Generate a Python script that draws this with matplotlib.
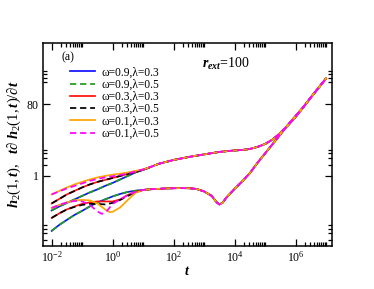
import matplotlib
matplotlib.use('Agg')
import matplotlib.pyplot as plt
from matplotlib.ticker import FixedLocator, NullFormatter

plt.rcParams['font.family'] = 'Liberation Serif'
plt.rcParams['mathtext.fontset'] = 'custom'
plt.rcParams['mathtext.rm'] = 'Liberation Serif'
plt.rcParams['mathtext.it'] = 'Liberation Serif:italic:bold'
plt.rcParams['mathtext.bf'] = 'Liberation Serif:bold'

# early times (quarter decades from 1e-2 to 1e1)
t_early = [0.01, 0.0178, 0.0316, 0.0562, 0.1, 0.178, 0.316, 0.562, 1.0, 1.78, 3.16, 5.62, 10.0]

# h2(1,t), early part
up_w09 = [0.122, 0.156, 0.193, 0.239, 0.296, 0.366, 0.44, 0.544, 0.653, 0.808, 1.0, 1.24, 1.44]
up_w03 = [0.187, 0.246, 0.324, 0.401, 0.496, 0.596, 0.694, 0.784, 0.885, 1.0, 1.13, 1.28, 1.46]
up_w01a = [0.324, 0.401, 0.496, 0.596, 0.694, 0.808, 0.913, 1.0, 1.08, 1.15, 1.24, 1.36, 1.49]
up_w01b = [0.324, 0.389, 0.467, 0.544, 0.634, 0.738, 0.833, 0.913, 0.98, 1.06, 1.16, 1.32, 1.49]

# t dh2/dt, early part
lo_w09 = [0.0351, 0.0506, 0.0686, 0.0929, 0.119, 0.156, 0.199, 0.239, 0.287, 0.334, 0.377, 0.406, 0.426]
lo_w03a = [0.0774, 0.102, 0.130, 0.156, 0.182, 0.199, 0.211, 0.211, 0.211, 0.239, 0.314, 0.377, 0.426]
lo_w03b = [0.0774, 0.102, 0.130, 0.151, 0.171, 0.182, 0.182, 0.176, 0.193, 0.232, 0.296, 0.366, 0.426]
t_lo_w01a = [0.01, 0.0178, 0.0316, 0.0562, 0.1, 0.178, 0.316, 0.562, 0.794, 1.0, 1.78, 3.16, 5.62, 10.0]
lo_w01a = [0.142, 0.171, 0.199, 0.225, 0.232, 0.225, 0.187, 0.130, 0.110, 0.112, 0.147, 0.232, 0.355, 0.426]
t_lo_w01b = [0.01, 0.0178, 0.0316, 0.0562, 0.1, 0.178, 0.316, 0.447, 0.631, 1.0, 1.78, 3.16, 5.62, 10.0]
lo_w01b = [0.142, 0.171, 0.199, 0.218, 0.211, 0.171, 0.115, 0.0988, 0.115, 0.182, 0.239, 0.314, 0.377, 0.426]

# common late-time parts
t_up_tail = [17.8, 31.6, 56.2, 100, 178, 316, 562, 1e3, 1.78e3, 3.16e3, 5.62e3, 1e4, 1.78e4,
             3.16e4, 5.62e4, 1e5, 1.78e5, 3.16e5, 5.62e5, 1e6, 1.78e6, 3.16e6, 5.62e6, 1e7]
up_tail = [1.73, 2.08, 2.35, 2.65, 2.90, 3.18, 3.44, 3.71, 4.01, 4.32, 4.53, 4.73, 4.87,
           5.18, 5.85, 7.0, 9.24, 13.7, 21.7, 36.4, 64.9, 119, 213, 380]
t_lo_tail = [17.8, 31.6, 56.2, 100, 178, 316, 562, 1e3, 1.78e3, 2.51e3, 3.16e3, 3.98e3, 5.62e3, 1e4,
             1.78e4, 3.16e4, 5.62e4, 1e5, 1.78e5, 3.16e5, 5.62e5, 1e6, 1.78e6, 3.16e6, 5.62e6, 1e7]
lo_tail = [0.445, 0.453, 0.467, 0.473, 0.476, 0.473, 0.453, 0.389, 0.296, 0.205, 0.176, 0.193, 0.278, 0.453,
           0.715, 1.18, 2.21, 3.94, 7.0, 12.5, 22.5, 38.5, 66, 119, 213, 380]

series = [
    ('ω=0.9,λ=0.3', '#1010ff', '-', t_early, up_w09, t_early, lo_w09),
    ('ω=0.9,λ=0.5', '#1e9e1e', '--', t_early, up_w09, t_early, lo_w09),
    ('ω=0.3,λ=0.3', '#ff1010', '-', t_early, up_w03, t_early, lo_w03a),
    ('ω=0.3,λ=0.5', 'black', '--', t_early, up_w03, t_early, lo_w03b),
    ('ω=0.1,λ=0.3', '#ffa500', '-', t_early, up_w01a, t_lo_w01a, lo_w01a),
    ('ω=0.1,λ=0.5', '#ff00ff', '--', t_early, up_w01b, t_lo_w01b, lo_w01b),
]

fig = plt.figure(figsize=(3.74, 2.89), dpi=100)
ax = fig.add_axes([0.115, 0.149, 0.773, 0.702])

for label, color, ls, tu, yu, tl, yl in series:
    kw = dict(color=color, lw=1.25)
    if ls == '--':
        kw['dashes'] = (3.6, 2.2)
    ax.plot(tu + t_up_tail, yu + up_tail, label=label, **kw)
    ax.plot(tl + t_lo_tail, yl + lo_tail, **kw)

ax.set_xscale('log')
ax.set_yscale('log')
ax.set_xlim(10 ** -2.285, 10 ** 7.2)
ax.set_ylim(0.014, 3300)

ax.xaxis.set_major_locator(FixedLocator([1e-2, 1, 1e2, 1e4, 1e6]))
ax.set_xticklabels([r'$10^{-2}$', r'$10^{0}$', r'$10^{2}$', r'$10^{4}$', r'$10^{6}$'])
xminor = [m * 10.0 ** k for k in (-2, 0, 2, 4, 6) for m in range(2, 11)]
ax.xaxis.set_minor_locator(FixedLocator(xminor))
ax.xaxis.set_minor_formatter(NullFormatter())

ax.yaxis.set_major_locator(FixedLocator([1, 80]))
ax.set_yticklabels(['1', '80'])
ax.yaxis.set_minor_locator(FixedLocator([0.02, 0.03, 0.04, 0.05, 2, 3, 4, 5, 300, 400, 500, 600]))
ax.yaxis.set_minor_formatter(NullFormatter())

ax.tick_params(which='both', direction='in', top=True, right=True, labelsize=8.5, width=0.9)
ax.tick_params(which='major', length=5, pad=3)
ax.tick_params(which='minor', length=2.8)
for s in ax.spines.values():
    s.set_linewidth(1.1)

ax.set_xlabel(r'$t$', fontsize=10, labelpad=0)
ax.set_ylabel(r'$\mathit{h_2(1,t),\ \ t\partial\ h_2(1,t)/\partial t}$', fontsize=10.5, labelpad=3)

ax.text(0.065, 0.93, '(a)', transform=ax.transAxes, fontsize=8.5, va='center')
ax.text(0.55, 0.88, r'$r_{ext}$=100', transform=ax.transAxes, fontsize=10)

ax.legend(loc='upper left', bbox_to_anchor=(0.093, 0.885), frameon=False, fontsize=8.3,
          handlelength=2.2, handletextpad=0.55, labelspacing=0.02, borderpad=0, borderaxespad=0)

fig.savefig('out.png', dpi=100)
